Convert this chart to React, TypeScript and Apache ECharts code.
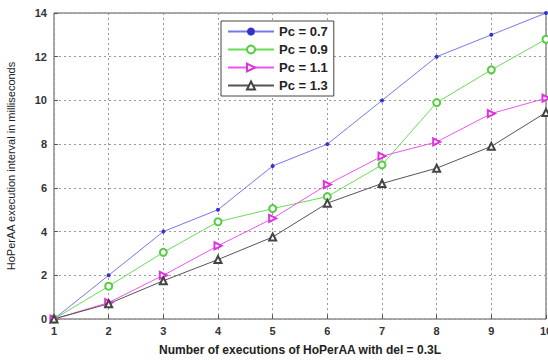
import React, { useEffect, useRef } from "react";
import * as echarts from "echarts";

const executions = [1, 2, 3, 4, 5, 6, 7, 8, 9, 10];
const pc07 = [0, 2, 4, 5, 7, 8, 10, 12, 13, 14];
const pc09 = [0, 1.5, 3.05, 4.45, 5.05, 5.6, 7.05, 9.9, 11.4, 12.8];
const pc11 = [0, 0.75, 2.0, 3.35, 4.6, 6.15, 7.45, 8.1, 9.4, 10.1];
const pc13 = [0, 0.7, 1.75, 2.72, 3.75, 5.3, 6.2, 6.9, 7.9, 9.45];
const seriesNames = ["Pc = 0.7", "Pc = 0.9", "Pc = 1.1", "Pc = 1.3"];

const FONT = "Liberation Sans";

export default function App() {
  const ref = useRef<HTMLDivElement>(null);
  useEffect(() => {
    if (!ref.current) return;
    const chart = echarts.init(ref.current, undefined, { renderer: "svg" });
    const mk = (vals: number[]) => vals.map((v, i) => [executions[i], v]);
    const gridLine = { show: true, lineStyle: { color: "#999", type: [2, 3] as any, width: 1 } };
    chart.setOption({
      animation: false,
      backgroundColor: "#fff",
      textStyle: { fontFamily: FONT },
      grid: {
        left: 54,
        right: 2,
        top: 13,
        bottom: 42,
        show: true,
        borderColor: "#555",
        borderWidth: 1,
        outerBoundsMode: "none",
        containLabel: false,
      },
      legend: {
        orient: "vertical",
        left: 221,
        top: 21,
        backgroundColor: "#fff",
        borderColor: "#444",
        borderWidth: 1,
        borderRadius: 0,
        padding: [4, 6, 4, 6],
        itemGap: 5,
        itemWidth: 46,
        itemHeight: 10,
        textStyle: { fontFamily: FONT, fontSize: 13, fontWeight: "bold", color: "#222" },
        data: seriesNames,
      },
      xAxis: {
        type: "value",
        min: 1,
        max: 10,
        interval: 1,
        name: "Number of executions of HoPerAA with del = 0.3L",
        nameLocation: "middle",
        nameGap: 25,
        nameTextStyle: { fontFamily: FONT, fontSize: 12, fontWeight: "bold", color: "#222" },
        axisLine: { show: false },
        axisTick: { inside: true, length: 4, lineStyle: { color: "#555" } },
        axisLabel: { fontFamily: FONT, fontSize: 11, fontWeight: "bold", color: "#333", margin: 6 },
        splitLine: gridLine,
      },
      yAxis: {
        type: "value",
        min: 0,
        max: 14,
        interval: 2,
        name: "HoPerAA execution interval in milliseconds",
        nameLocation: "middle",
        nameGap: 38,
        nameTextStyle: { fontFamily: FONT, fontSize: 11, color: "#222" },
        axisLine: { show: false },
        axisTick: { inside: true, length: 4, lineStyle: { color: "#555" } },
        axisLabel: { fontFamily: FONT, fontSize: 11, fontWeight: "bold", color: "#333", margin: 7 },
        splitLine: gridLine,
      },
      series: [
        {
          name: seriesNames[0],
          type: "line",
          data: mk(pc07),
          symbol: "circle",
          symbolSize: 4,
          color: "#5555ee",
          lineStyle: { width: 1, color: "#7777ee" },
          itemStyle: { color: "#3333cc" },
        },
        {
          name: seriesNames[1],
          type: "line",
          data: mk(pc09),
          symbol: "emptyCircle",
          symbolSize: 7,
          color: "#55dd44",
          lineStyle: { width: 1, color: "#66dd55" },
          itemStyle: { color: "#55cc44", borderColor: "#55cc44", borderWidth: 1 },
        },
        {
          name: seriesNames[2],
          type: "line",
          data: mk(pc11),
          symbol: "emptyTriangle",
          symbolRotate: -90,
          symbolSize: 7,
          color: "#ee44ee",
          lineStyle: { width: 1, color: "#ee55ee" },
          itemStyle: { color: "#dd33dd", borderColor: "#dd33dd", borderWidth: 1 },
        },
        {
          name: seriesNames[3],
          type: "line",
          data: mk(pc13),
          symbol: "emptyTriangle",
          symbolSize: 7,
          color: "#444",
          lineStyle: { width: 1, color: "#555" },
          itemStyle: { color: "#444", borderColor: "#444", borderWidth: 1 },
        },
      ],
    });
    return () => chart.dispose();
  }, []);
  return <div ref={ref} style={{ width: 548, height: 361, position: "absolute", left: 0, top: 0 }} />;
}
